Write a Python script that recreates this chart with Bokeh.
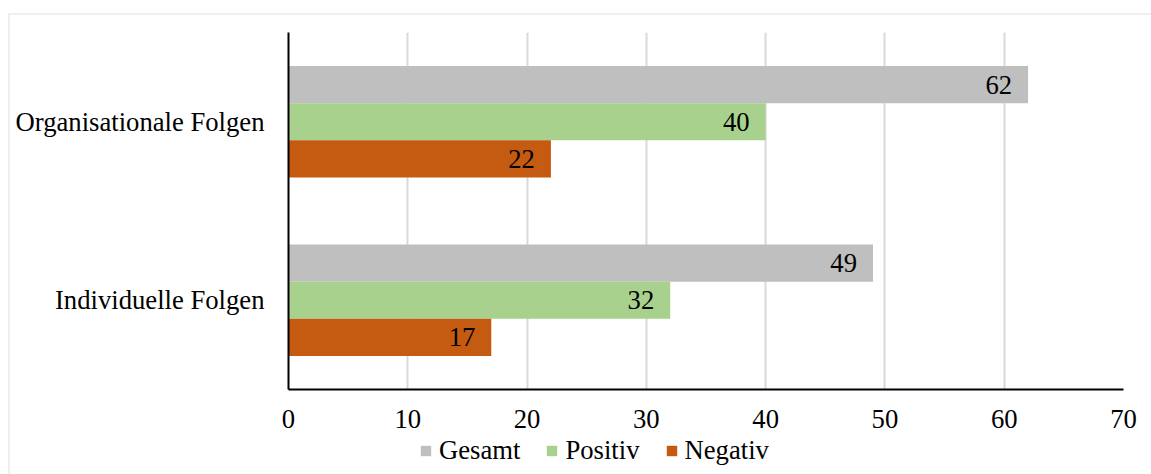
from bokeh.plotting import figure
from bokeh.models import ColumnDataSource, FactorRange, Legend, LegendItem, Range1d
from bokeh.layouts import column
from bokeh.transform import dodge
from bokeh.core.properties import value
from bokeh.embed import file_html
from bokeh.resources import INLINE

categories = ["Individuelle Folgen", "Organisationale Folgen"]
gesamt = [49, 62]
positiv = [32, 40]
negativ = [17, 22]
series_names = ["Gesamt", "Positiv", "Negativ"]
colors = ["#bfbfbf", "#a9d18e", "#c55a11"]
x_ticks = [0, 10, 20, 30, 40, 50, 60, 70]

FONT = "Liberation Serif"
FS = "26.67px"

p = figure(y_range=FactorRange(factors=categories, range_padding=0), x_range=(0, 70),
           width=1141, height=419, output_backend="svg", toolbar_location=None,
           min_border_left=278, min_border_right=28, min_border_top=17, min_border_bottom=45)
p.outline_line_color = None

src = ColumnDataSource(dict(cat=categories, Gesamt=gesamt, Positiv=positiv, Negativ=negativ,
                            lg=[str(v) for v in gesamt], lp=[str(v) for v in positiv],
                            ln=[str(v) for v in negativ]))

bw = 0.208
offsets = [bw, 0.0, -bw]
label_cols = ["lg", "lp", "ln"]
for name, col, off, lc in zip(series_names, colors, offsets, label_cols):
    p.hbar(y=dodge("cat", off, range=p.y_range), right=name, left=0, height=bw,
           source=src, fill_color=col, line_color=None)
    p.text(x=name, y=dodge("cat", off, range=p.y_range), text=lc, source=src,
           text_align="right", text_baseline="middle", x_offset=-16,
           text_font=value(FONT), text_font_size=FS, text_color="black")

p.xaxis.ticker = x_ticks
p.xgrid.grid_line_color = "#d9d9d9"
p.xgrid.grid_line_width = 2
p.ygrid.grid_line_color = None
for ax in (p.xaxis[0], p.yaxis[0]):
    ax.axis_line_color = "black"
    ax.axis_line_width = 2
    ax.major_tick_line_color = None
    ax.minor_tick_line_color = None
    ax.major_label_text_font = FONT
    ax.major_label_text_font_size = FS
    ax.major_label_text_color = "black"
p.xaxis.major_label_standoff = 14
p.yaxis.major_label_standoff = 18

# legend strip below the chart (its frame is aligned with the chart frame)
p2 = figure(width=1141, height=40, output_backend="svg", toolbar_location=None,
            x_range=Range1d(0, 1), y_range=Range1d(0, 1),
            x_axis_location=None, y_axis_location=None,
            min_border_left=0, min_border_right=0, min_border_top=0, min_border_bottom=0)
p2.outline_line_color = None
p2.grid.grid_line_color = None
items = []
for name, col in zip(series_names, colors):
    r = p2.hbar(y=[-10], right=[1], left=[0], height=1, fill_color=col, line_color=None)
    items.append(LegendItem(label=name, renderers=[r]))
legend = Legend(items=items, orientation="horizontal", location=(131, 8),
                glyph_width=13, glyph_height=13, label_standoff=7, spacing=25,
                padding=0, margin=0, border_line_color=None, background_fill_alpha=0,
                label_text_font=FONT, label_text_font_size=FS, label_height=20,
                label_text_color="black")
p2.add_layout(legend)

layout = column(p, p2, spacing=0)
layout.styles = {"border-top": "2px solid #efefef", "border-left": "2px solid #efefef",
                 "margin-left": "8px", "margin-top": "13px"}

open("out.html", "w").write(file_html(layout, INLINE))
